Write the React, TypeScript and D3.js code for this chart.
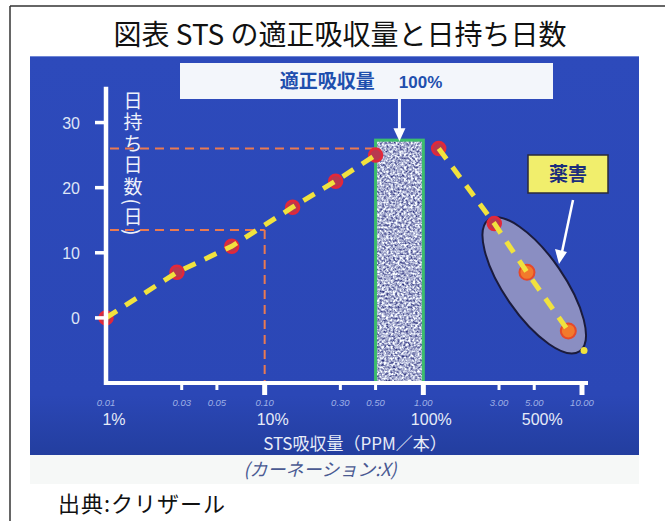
import React from "react";
import * as d3 from "d3";

// ---------- data ----------
const titleText = "図表 STS の適正吸収量と日持ち日数";
const xTickValues = [0.01, 0.03, 0.05, 0.1, 0.3, 0.5, 1, 3, 5, 10];
const xMajorTicks = [0.1, 1, 10];
const pctValues = [0.01, 0.1, 1, 5];
const pctLabels = ["1%", "10%", "100%", "500%"];
const yTickValues = [0, 10, 20, 30];
const yLabelText = "日持ち日数(日)";

// rising part (vase life increases with STS uptake)
const risePpm = [0.01, 0.028, 0.062, 0.15, 0.28, 0.5];
const riseDays = [0, 7, 11, 17, 21, 25];
// falling part (over-dose)
const fallPpm = [1.25, 2.8, 4.5, 8.2, 10.3];
const fallDays = [26, 14.5, 7, -2, -5];
const fallKind = ["point", "point", "harm", "harm", "end"];

const optimalRange = [0.5, 1.0];
const optimalTop = 27.3;
const optimalDays = 26;
const refPpm = 0.1;
const refDays = 13.5;
const harmCenter = [5, 5];

const FONT = "'Liberation Sans', 'Noto Sans CJK JP', sans-serif";
const JFONT = "'Noto Sans CJK JP', 'Liberation Sans', sans-serif";

export default function App() {
  const W = 665, H = 521;
  const x = d3.scaleLog().domain([0.01, 10]).range([106, 582]);
  const y = d3.scaleLinear().domain([-10, 35]).range([383, 90]);
  const axisY = y(-10);
  const axisX = x(0.01);

  const rise = risePpm.map((p, i) => ({ p, d: riseDays[i] }));
  const fall = fallPpm.map((p, i) => ({ p, d: fallDays[i], k: fallKind[i] }));
  const line = d3.line<{ p: number; d: number }>().x(v => x(v.p)).y(v => y(v.d));

  // harm ellipse aligned with falling line
  const a = fall[1], b = fall[3];
  const ang = (Math.atan2(y(b.d) - y(a.d), x(b.p) - x(a.p)) * 180) / Math.PI;
  const ecx = x(harmCenter[0]), ecy = y(harmCenter[1]);

  const barX0 = x(optimalRange[0]), barX1 = x(optimalRange[1]);
  const barTop = y(optimalTop);
  const barMid = (barX0 + barX1) / 2;

  return (
    <svg width={W} height={H} style={{ position: "absolute", left: 0, top: 0, background: "#fff" }}>
      <defs>
        <linearGradient id="panel" x1="0" y1="0" x2="0" y2="1">
          <stop offset="0" stopColor="#2d4abb" />
          <stop offset="0.85" stopColor="#2b47b6" />
          <stop offset="1" stopColor="#233e9f" />
        </linearGradient>
        <filter id="speckle" x="0" y="0" width="100%" height="100%" colorInterpolationFilters="sRGB">
          <feTurbulence type="fractalNoise" baseFrequency="0.45" numOctaves="2" seed="7" result="n" />
          <feColorMatrix in="n" type="matrix"
            values="1.5 0 0 0 -0.08  1.5 0 0 0 -0.06  1.0 0 0 0 0.32  0 0 0 0 1" />
          <feComposite in2="SourceGraphic" operator="in" />
        </filter>
      </defs>

      {/* frame */}
      <line x1={10} y1={6} x2={665} y2={6} stroke="#333" strokeWidth={1.5} />
      <line x1={10} y1={6} x2={10} y2={521} stroke="#333" strokeWidth={1.5} />

      {/* title */}
      <text x={340} y={45} textAnchor="middle" fontFamily={JFONT} fontSize={28} fill="#111">{titleText}</text>

      {/* panel */}
      <rect x={30} y={56} width={609} height={399} fill="url(#panel)" />
      <line x1={30} y1={56.5} x2={639} y2={56.5} stroke="#6f86d6" strokeWidth={1} />
      <rect x={30} y={455} width={609} height={29} fill="#f6f8f7" />

      {/* label box */}
      <rect x={180} y={63} width={373} height={36} fill="#f3f6fb" />
      <text x={361} y={88} textAnchor="middle" fontFamily={JFONT} fill="#1f4fae">
        <tspan fontSize={19} fontWeight={700}>適正吸収量</tspan>
        <tspan fontSize={17} fontWeight={700} fontFamily={FONT} dx={24}>100%</tspan>
      </text>

      {/* reference dashed lines */}
      <g stroke="#ea7a50" strokeWidth={2} strokeDasharray="9 6" fill="none">
        <line x1={axisX + 4} y1={y(optimalDays)} x2={barX0} y2={y(optimalDays)} />
        <line x1={axisX + 4} y1={y(refDays)} x2={x(refPpm)} y2={y(refDays)} />
        <line x1={x(refPpm)} y1={y(refDays)} x2={x(refPpm)} y2={axisY} />
      </g>

      {/* optimal band */}
      <rect x={barX0} y={barTop} width={barX1 - barX0} height={axisY - barTop} fill="#fff" filter="url(#speckle)" />
      <rect x={barX0} y={barTop} width={barX1 - barX0} height={axisY - barTop} fill="none" stroke="#3dbd6c" strokeWidth={3} />

      {/* arrow from label box */}
      <line x1={barMid} y1={99} x2={barMid} y2={barTop - 8} stroke="#fff" strokeWidth={3} />
      <path d={`M${barMid - 6},${barTop - 12} L${barMid + 6},${barTop - 12} L${barMid},${barTop + 1} Z`} fill="#fff" />

      {/* harm ellipse */}
      <ellipse cx={ecx} cy={ecy} rx={80} ry={30} transform={`rotate(${ang} ${ecx} ${ecy})`}
        fill="#8a8ec2" stroke="#1b1b3c" strokeWidth={2} />

      {/* markers */}
      {rise.map((v, i) => (
        <circle key={"r" + i} cx={x(v.p)} cy={y(v.d)} r={6.5} fill="#b8384f" stroke="#e2283a" strokeWidth={2.5} />
      ))}
      {fall.filter(v => v.k !== "end").map((v, i) => (
        v.k === "harm"
          ? <circle key={"f" + i} cx={x(v.p)} cy={y(v.d)} r={7.5} fill="#f27a2c" stroke="#e5492a" strokeWidth={2} />
          : <circle key={"f" + i} cx={x(v.p)} cy={y(v.d)} r={6.5} fill="#b8384f" stroke="#e2283a" strokeWidth={2.5} />
      ))}

      {/* yellow dashed trend lines */}
      <path d={line(rise) || ""} fill="none" stroke="#f1e23e" strokeWidth={5} strokeDasharray="13 10" />
      <path d={line(fall.slice(0, 4)) || ""} fill="none" stroke="#f1e23e" strokeWidth={5} strokeDasharray="13 10" />
      {fall.filter(v => v.k === "end").map((v, i) => (
        <circle key={"e" + i} cx={x(v.p)} cy={y(v.d)} r={3.5} fill="#f1e23e" />
      ))}

      {/* 薬害 box + arrow */}
      <rect x={528} y={155} width={80} height={38} fill="#f1ee6c" stroke="#2a2a3a" strokeWidth={1.5} />
      <text x={568} y={181} textAnchor="middle" fontFamily={JFONT} fontSize={19} fontWeight={700} fill="#1c2d7c">薬害</text>
      <line x1={573} y1={200} x2={562} y2={252} stroke="#fff" strokeWidth={2.5} />
      <path d="M555,249 L567,252 L559,264 Z" fill="#fff" />

      {/* axes */}
      <line x1={axisX} y1={y(35.5)} x2={axisX} y2={axisY + 2} stroke="#fff" strokeWidth={4.5} />
      <line x1={axisX - 2} y1={axisY} x2={588} y2={axisY} stroke="#fff" strokeWidth={4} />
      {yTickValues.map(v => (
        <g key={"yt" + v}>
          <line x1={axisX - 11} y1={y(v)} x2={axisX} y2={y(v)} stroke="#fff" strokeWidth={3.5} />
          <text x={80} y={y(v) + 6} textAnchor="end" fontFamily={FONT} fontSize={16} fill="#dfe5f6">{v}</text>
        </g>
      ))}
      {xTickValues.filter(v => v > 0.01).map(v => {
        const major = xMajorTicks.includes(v);
        return (
          <line key={"xt" + v} x1={x(v)} y1={axisY} x2={x(v)} y2={axisY + (major ? 12 : 7)}
            stroke="#fff" strokeWidth={major ? 5 : 3} />
        );
      })}
      {xTickValues.map(v => (
        <text key={"xl" + v} x={x(v)} y={406} textAnchor="middle" fontFamily={FONT} fontSize={9.5}
          fontStyle="italic" fill="#9fb0e6">{d3.format(".2f")(v)}</text>
      ))}
      {pctValues.map((v, i) => (
        <text key={"p" + v} x={x(v) + 8} y={425} textAnchor="middle" fontFamily={FONT} fontSize={16} fill="#e6ebf8">{pctLabels[i]}</text>
      ))}
      <text x={355} y={450} textAnchor="middle" fontFamily={JFONT} fontSize={17} fill="#e8ecf8">STS吸収量（PPM／本）</text>

      {/* vertical y label */}
      <text x={133} y={91} fontFamily={JFONT} fontSize={19} fill="#eef1fa" letterSpacing={2.5}
        style={{ writingMode: "vertical-rl" }}>{yLabelText}</text>

      {/* notes */}
      <text x={320} y={476} textAnchor="middle" fontFamily={JFONT} fontSize={18} fontStyle="italic" fill="#4a5a92">(カーネーション:X)</text>
      <text x={58} y={512} fontFamily={JFONT} fontSize={22} letterSpacing={1} fill="#111">出典:クリザール</text>
    </svg>
  );
}
